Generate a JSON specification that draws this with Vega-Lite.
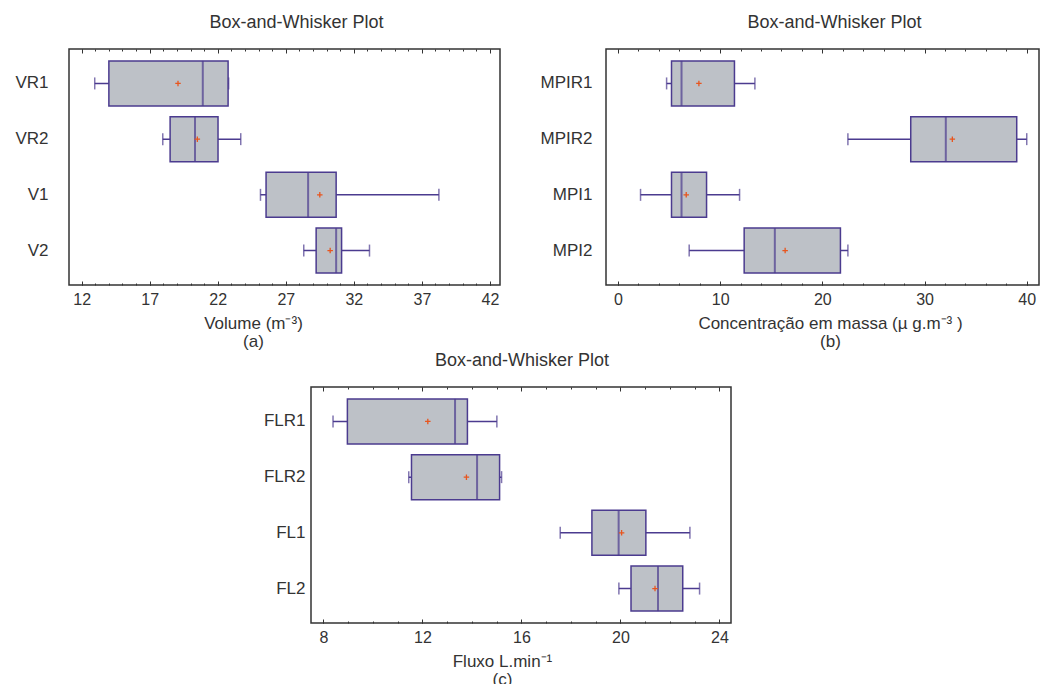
{
  "$schema": "https://vega.github.io/schema/vega-lite/v6.json",
  "background": "white",
  "padding": {"left": 14, "top": 12, "right": 2, "bottom": 2},
  "datasets": {
    "a": [
      {"g": "VR1", "mn": 12.96, "q1": 14.0, "md": 20.9, "q3": 22.76, "mx": 22.8, "mean": 19.08},
      {"g": "VR2", "mn": 17.96, "q1": 18.5, "md": 20.33, "q3": 22.02, "mx": 23.69, "mean": 20.5},
      {"g": "V1", "mn": 25.14, "q1": 25.55, "md": 28.64, "q3": 30.7, "mx": 38.25, "mean": 29.5},
      {"g": "V2", "mn": 28.32, "q1": 29.23, "md": 30.7, "q3": 31.1, "mx": 33.15, "mean": 30.26}
    ],
    "b": [
      {"g": "MPIR1", "mn": 4.76, "q1": 5.24, "md": 6.22, "q3": 11.4, "mx": 13.4, "mean": 7.92},
      {"g": "MPIR2", "mn": 22.5, "q1": 28.65, "md": 32.08, "q3": 39.02, "mx": 40.0, "mean": 32.72},
      {"g": "MPI1", "mn": 2.21, "q1": 5.24, "md": 6.22, "q3": 8.67, "mx": 11.9, "mean": 6.68},
      {"g": "MPI2", "mn": 6.97, "q1": 12.35, "md": 15.35, "q3": 21.77, "mx": 22.5, "mean": 16.36}
    ],
    "c": [
      {"g": "FLR1", "mn": 8.39, "q1": 8.97, "md": 13.32, "q3": 13.82, "mx": 15.01, "mean": 12.22},
      {"g": "FLR2", "mn": 11.45, "q1": 11.56, "md": 14.21, "q3": 15.12, "mx": 15.2, "mean": 13.78},
      {"g": "FL1", "mn": 17.57, "q1": 18.85, "md": 19.93, "q3": 21.03, "mx": 22.81, "mean": 20.05},
      {"g": "FL2", "mn": 19.94, "q1": 20.43, "md": 21.52, "q3": 22.52, "mx": 23.2, "mean": 21.4}
    ]
  },
  "bounds": "flush",
  "spacing": 338,
  "vconcat": [
    {
      "bounds": "flush",
      "spacing": 106,
      "hconcat": [
        {
          "width": 431, "height": 236,
          "data": {"name": "a"},
          "title": {"text": "Box-and-Whisker Plot"},
          "encoding": {"y": {"field": "g", "type": "nominal", "sort": null, "title": null,
            "scale": {"type": "band", "paddingInner": 0, "paddingOuter": 0.118},
            "axis": {"labelPadding": 21}}},
          "layer": [
            {"mark": {"type": "rule", "color": "#4b3b8f", "strokeWidth": 1.5},
             "encoding": {"x": {"field": "mn", "type": "quantitative",
               "scale": {"domain": [11.07, 42.74], "nice": false, "zero": false},
               "axis": {"orient": "bottom", "values": [12, 17, 22, 27, 32, 37, 42], "tickSize": -4, "labelPadding": 10, "titleX": 184, "title": ["Volume (m⁻³)", "(a)"]}},
               "x2": {"field": "mx"}}},
            {"mark": {"type": "bar", "fill": "#bdc1c7", "stroke": "#4b3b8f", "strokeWidth": 1.5, "height": 45},
             "encoding": {"x": {"field": "q1", "type": "quantitative", "axis": null}, "x2": {"field": "q3"}}},
            {"mark": {"type": "tick", "color": "#4b3b8f", "thickness": 2, "size": 45},
             "encoding": {"x": {"field": "md", "type": "quantitative",
               "axis": {"orient": "top", "values": [12, 17, 22, 27, 32, 37, 42], "tickSize": -4, "labels": false, "title": null}}}},
            {"mark": {"type": "tick", "color": "#4b3b8f", "thickness": 1.5, "size": 12},
             "encoding": {"x": {"field": "mn", "type": "quantitative",
               "axis": {"orient": "bottom", "values": [12,13,14,15,16,17,18,19,20,21,22,23,24,25,26,27,28,29,30,31,32,33,34,35,36,37,38,39,40,41,42], "tickSize": -2, "labels": false, "title": null}}}},
            {"mark": {"type": "tick", "color": "#4b3b8f", "thickness": 1.5, "size": 12},
             "encoding": {"x": {"field": "mx", "type": "quantitative",
               "axis": {"orient": "top", "values": [12,13,14,15,16,17,18,19,20,21,22,23,24,25,26,27,28,29,30,31,32,33,34,35,36,37,38,39,40,41,42], "tickSize": -2, "labels": false, "title": null}}}},
            {"mark": {"type": "point", "shape": "M-1,0H1M0,-1V1", "size": 30, "stroke": "#e8551e", "strokeWidth": 1.3, "filled": false, "opacity": 1},
             "encoding": {"x": {"field": "mean", "type": "quantitative", "axis": null}}}
          ],
          "resolve": {"axis": {"x": "independent"}}
        },
        {
          "width": 433, "height": 236,
          "data": {"name": "b"},
          "title": {"text": "Box-and-Whisker Plot"},
          "encoding": {"y": {"field": "g", "type": "nominal", "sort": null, "title": null,
            "scale": {"type": "band", "paddingInner": 0, "paddingOuter": 0.118},
            "axis": {"labelPadding": 14}}},
          "layer": [
            {"mark": {"type": "rule", "color": "#4b3b8f", "strokeWidth": 1.5},
             "encoding": {"x": {"field": "mn", "type": "quantitative",
               "scale": {"domain": [-1.17, 41.2], "nice": false, "zero": false},
               "axis": {"orient": "bottom", "values": [0, 10, 20, 30, 40], "tickSize": -4, "labelPadding": 10, "titleX": 224, "title": ["Concentração em massa (µ g.m⁻³ )", "(b)"]}},
               "x2": {"field": "mx"}}},
            {"mark": {"type": "bar", "fill": "#bdc1c7", "stroke": "#4b3b8f", "strokeWidth": 1.5, "height": 45},
             "encoding": {"x": {"field": "q1", "type": "quantitative", "axis": null}, "x2": {"field": "q3"}}},
            {"mark": {"type": "tick", "color": "#4b3b8f", "thickness": 2, "size": 45},
             "encoding": {"x": {"field": "md", "type": "quantitative",
               "axis": {"orient": "top", "values": [0, 10, 20, 30, 40], "tickSize": -4, "labels": false, "title": null}}}},
            {"mark": {"type": "tick", "color": "#4b3b8f", "thickness": 1.5, "size": 12},
             "encoding": {"x": {"field": "mn", "type": "quantitative",
               "axis": {"orient": "bottom", "values": [0,2,4,6,8,10,12,14,16,18,20,22,24,26,28,30,32,34,36,38,40], "tickSize": -2, "labels": false, "title": null}}}},
            {"mark": {"type": "tick", "color": "#4b3b8f", "thickness": 1.5, "size": 12},
             "encoding": {"x": {"field": "mx", "type": "quantitative",
               "axis": {"orient": "top", "values": [0,2,4,6,8,10,12,14,16,18,20,22,24,26,28,30,32,34,36,38,40], "tickSize": -2, "labels": false, "title": null}}}},
            {"mark": {"type": "point", "shape": "M-1,0H1M0,-1V1", "size": 30, "stroke": "#e8551e", "strokeWidth": 1.3, "filled": false, "opacity": 1},
             "encoding": {"x": {"field": "mean", "type": "quantitative", "axis": null}}}
          ],
          "resolve": {"axis": {"x": "independent"}}
        }
      ]
    },
    {
      "bounds": "flush",
      "spacing": 106,
      "hconcat": [
        {
          "width": 136, "height": 236,
          "data": {"values": [{}]},
          "mark": {"type": "text", "text": ""},
          "encoding": {},
          "view": {"stroke": null}
        },
        {
          "width": 420, "height": 236,
          "data": {"name": "c"},
          "title": {"text": "Box-and-Whisker Plot", "dx": 1},
          "encoding": {"y": {"field": "g", "type": "nominal", "sort": null, "title": null,
            "scale": {"type": "band", "paddingInner": 0, "paddingOuter": 0.118},
            "axis": {"labelPadding": 6}}},
          "layer": [
            {"mark": {"type": "rule", "color": "#4b3b8f", "strokeWidth": 1.5},
             "encoding": {"x": {"field": "mn", "type": "quantitative",
               "scale": {"domain": [7.5, 24.47], "nice": false, "zero": false},
               "axis": {"orient": "bottom", "values": [8, 12, 16, 20, 24], "tickSize": -4, "labelPadding": 10, "titleX": 191, "title": ["Fluxo L.min⁻¹", "(c)"]}},
               "x2": {"field": "mx"}}},
            {"mark": {"type": "bar", "fill": "#bdc1c7", "stroke": "#4b3b8f", "strokeWidth": 1.5, "height": 45},
             "encoding": {"x": {"field": "q1", "type": "quantitative", "axis": null}, "x2": {"field": "q3"}}},
            {"mark": {"type": "tick", "color": "#4b3b8f", "thickness": 2, "size": 45},
             "encoding": {"x": {"field": "md", "type": "quantitative",
               "axis": {"orient": "top", "values": [8, 12, 16, 20, 24], "tickSize": -4, "labels": false, "title": null}}}},
            {"mark": {"type": "tick", "color": "#4b3b8f", "thickness": 1.5, "size": 12},
             "encoding": {"x": {"field": "mn", "type": "quantitative",
               "axis": {"orient": "bottom", "values": [8,9,10,11,12,13,14,15,16,17,18,19,20,21,22,23,24], "tickSize": -2, "labels": false, "title": null}}}},
            {"mark": {"type": "tick", "color": "#4b3b8f", "thickness": 1.5, "size": 12},
             "encoding": {"x": {"field": "mx", "type": "quantitative",
               "axis": {"orient": "top", "values": [8,9,10,11,12,13,14,15,16,17,18,19,20,21,22,23,24], "tickSize": -2, "labels": false, "title": null}}}},
            {"mark": {"type": "point", "shape": "M-1,0H1M0,-1V1", "size": 30, "stroke": "#e8551e", "strokeWidth": 1.3, "filled": false, "opacity": 1},
             "encoding": {"x": {"field": "mean", "type": "quantitative", "axis": null}}}
          ],
          "resolve": {"axis": {"x": "independent"}}
        }
      ]
    }
  ],
  "config": {
    "view": {"stroke": "#333333", "strokeWidth": 1.5},
    "axis": {"domain": false, "grid": false, "labelFont": "Liberation Sans", "titleFont": "Liberation Sans",
      "labelColor": "#333333", "titleColor": "#333333", "tickColor": "#333333", "tickWidth": 1,
      "labelFontSize": 16, "titleFontSize": 17, "titleFontWeight": "normal", "titleLineHeight": 18, "titlePadding": 8},
    "axisY": {"ticks": false, "labelFontSize": 17},
    "title": {"font": "Liberation Sans", "fontSize": 18, "fontWeight": "normal", "color": "#333333",
      "frame": "group", "anchor": "middle", "baseline": "alphabetic", "offset": 17, "dx": 12}
  }
}
